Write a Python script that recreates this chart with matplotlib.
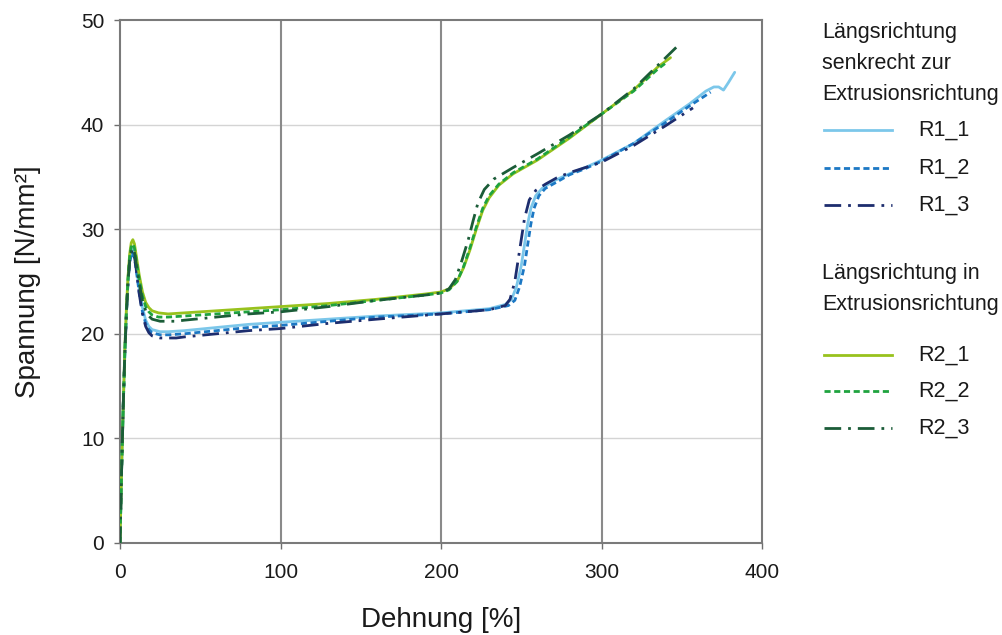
import matplotlib
matplotlib.use("Agg")
import matplotlib.pyplot as plt
from matplotlib.lines import Line2D

plt.rcParams['font.family'] = ['Liberation Sans', 'DejaVu Sans']

# Stress-strain curves: strain [%] and stress [N/mm²]
r1_1_x = [0, 1, 2, 3, 4, 5, 6, 7.5, 9, 10, 12, 14, 16, 18, 20, 25, 30, 40, 60, 80, 100,
          130, 160, 200, 230, 240, 244, 247, 250, 252, 254, 256, 259, 263, 270, 280,
          290, 300, 320, 340, 355, 365, 370, 373, 376, 379, 383]
r1_1_y = [0, 7, 13, 18, 22, 25, 27, 28.1, 27.6, 26.6, 24.3, 22.5, 21.3, 20.7, 20.4, 20.2,
          20.2, 20.3, 20.6, 20.9, 21.1, 21.4, 21.7, 22.0, 22.4, 22.8, 23.3, 24.5, 26.5,
          28.5, 30.5, 32.0, 33.2, 33.9, 34.6, 35.3, 35.9, 36.6, 38.2, 40.4, 42.0, 43.2,
          43.6, 43.6, 43.3, 44.0, 45.0]

r1_2_x = [0, 1, 2, 3, 4, 5, 6, 7.5, 9, 10, 12, 14, 16, 18, 20, 25, 30, 40, 60, 80, 100,
          130, 160, 200, 230, 242, 246, 249, 252, 254, 256, 258, 261, 265, 272, 280,
          290, 300, 320, 340, 355, 368]
r1_2_y = [0, 7, 13, 18, 22, 25, 26.8, 27.8, 27.3, 26.2, 23.9, 22.1, 21.0, 20.4, 20.1, 19.9,
          19.9, 20.0, 20.3, 20.6, 20.8, 21.2, 21.6, 21.9, 22.3, 22.7, 23.2, 24.5, 26.5,
          28.5, 30.5, 32.0, 33.2, 33.9, 34.5, 35.2, 35.8, 36.5, 38.2, 40.2, 41.8, 43.1]

r1_3_x = [0, 1, 2, 3, 4, 5, 6, 7.5, 9, 10, 12, 14, 16, 18, 20, 25, 30, 35, 40, 60, 80, 100,
          130, 160, 200, 230, 240, 243, 246, 248, 250, 252, 255, 259, 265, 272, 280,
          290, 300, 320, 340, 357]
r1_3_y = [0, 7, 13, 18, 22, 25, 27, 28.0, 27.4, 26.3, 23.8, 21.9, 20.7, 20.1, 19.8, 19.6,
          19.6, 19.6, 19.7, 20.0, 20.3, 20.5, 21.0, 21.4, 21.9, 22.3, 22.7, 23.3, 25.0,
          27.0, 29.0, 31.0, 32.8, 33.7, 34.3, 34.9, 35.4, 35.9, 36.4, 38.0, 39.9, 41.6]

r2_1_x = [0, 1, 2, 3, 4, 5, 6, 7, 8, 9, 10, 12, 14, 16, 18, 20, 24, 30, 40, 60, 80, 100,
          130, 160, 190, 200, 205, 210, 214, 218, 222, 226, 230, 236, 245, 260, 280,
          300, 320, 335, 343]
r2_1_y = [0, 7, 13, 18.5, 22.5, 25.5, 27.6, 28.7, 29.0, 28.6, 27.6, 25.6, 24.0, 23.0,
          22.5, 22.2, 22.0, 21.9, 22.0, 22.2, 22.4, 22.6, 22.9, 23.3, 23.8, 24.0, 24.3,
          25.0, 26.3, 28.0, 30.0, 31.8, 33.0, 34.2, 35.3, 36.6, 38.7, 41.0, 43.3, 45.5, 46.4]

r2_2_x = [0, 1, 2, 3, 4, 5, 6, 7, 8, 9, 10, 12, 14, 16, 18, 20, 24, 30, 40, 60, 80, 100,
          130, 160, 190, 200, 205, 210, 214, 218, 222, 226, 230, 236, 245, 260, 280,
          300, 320, 335, 341]
r2_2_y = [0, 7, 13, 18.3, 22.3, 25.3, 27.3, 28.3, 28.6, 28.2, 27.2, 25.2, 23.6, 22.6,
          22.1, 21.8, 21.6, 21.6, 21.7, 21.9, 22.1, 22.3, 22.7, 23.2, 23.7, 23.9, 24.2,
          25.0, 26.4, 28.2, 30.2, 32.0, 33.2, 34.3, 35.4, 36.7, 38.8, 41.0, 43.2, 45.3, 46.0]

r2_3_x = [0, 1, 2, 3, 4, 5, 6, 7, 8, 9, 10, 12, 14, 16, 18, 20, 25, 30, 35, 40, 60, 80,
          100, 130, 160, 190, 200, 205, 209, 213, 217, 220, 223, 227, 233, 245, 260,
          280, 300, 320, 336, 348]
r2_3_y = [0, 7, 13, 18.2, 22.0, 25.0, 27.0, 28.0, 28.2, 27.8, 26.8, 24.8, 23.2, 22.2,
          21.7, 21.4, 21.2, 21.2, 21.2, 21.3, 21.6, 21.9, 22.1, 22.6, 23.2, 23.7, 23.9,
          24.3, 25.2, 27.0, 29.0, 30.8, 32.5, 33.8, 34.8, 35.9, 37.2, 39.0, 41.0, 43.4,
          45.8, 47.6]

x_ticks = [0, 100, 200, 300, 400]
y_ticks = [0, 10, 20, 30, 40, 50]

group1_title = "Längsrichtung\nsenkrecht zur\nExtrusionsrichtung"
group2_title = "Längsrichtung in\nExtrusionsrichtung"

series = [
    ("R1_1", r1_1_x, r1_1_y, "#7cc7ea", "-"),
    ("R1_2", r1_2_x, r1_2_y, "#1c78c4", (0, (2.2, 1.3))),
    ("R1_3", r1_3_x, r1_3_y, "#1d2d6e", (0, (6, 2.5, 1, 2.5))),
    ("R2_1", r2_1_x, r2_1_y, "#98c21d", "-"),
    ("R2_2", r2_2_x, r2_2_y, "#1fa33f", (0, (2.2, 1.3))),
    ("R2_3", r2_3_x, r2_3_y, "#1b5c38", (0, (6, 2.5, 1, 2.5))),
]

W, H = 1002, 635
fig = plt.figure(figsize=(W / 100, H / 100), dpi=100)
ax = fig.add_axes([120 / W, 1 - 543 / H, (762 - 120) / W, (543 - 20) / H])

for name, xs, ys, col, ls in series:
    ax.plot(xs, ys, color=col, linestyle=ls, linewidth=2.0, solid_capstyle='round',
            dash_capstyle='butt', zorder=3)

ax.set_xlim(0, 400)
ax.set_ylim(0, 50)
ax.set_xticks(x_ticks)
ax.set_yticks(y_ticks)
ax.set_xticklabels([str(v) for v in x_ticks])
ax.set_yticklabels([str(v) for v in y_ticks])
ax.tick_params(axis='both', direction='out', length=4.3, width=1.0, color='#6e6e6e',
               labelsize=15, labelcolor='#1a1a1a')
ax.tick_params(axis='x', pad=10)
ax.tick_params(axis='y', pad=7)

# light horizontal grid, darker vertical grid
for v in y_ticks[1:-1]:
    ax.axhline(v, color='#d4d4d4', linewidth=1.0, zorder=1)
for v in x_ticks[1:-1]:
    ax.axvline(v, color='#8a8a8a', linewidth=1.5, zorder=1)
for sp in ax.spines.values():
    sp.set_color('#7a7a7a')
    sp.set_linewidth(1.5)

ax.set_xlabel("Dehnung [%]", fontsize=20, color='#1a1a1a', labelpad=18)
ax.set_ylabel("Spannung [N/mm²]", fontsize=20, color='#1a1a1a', labelpad=29)

# Legend drawn in figure pixel coordinates
def fy(py):
    return 1 - py / H

def fx(px):
    return px / W

fig.text(fx(822), fy(22), group1_title, fontsize=15.5, color='#1a1a1a',
         va='top', ha='left', linespacing=1.62)
fig.text(fx(822), fy(263), group2_title, fontsize=15.5, color='#1a1a1a',
         va='top', ha='left', linespacing=1.62)

legend_rows = [130, 168, 205, 355, 391, 428]
for (name, xs, ys, col, ls), py in zip(series, legend_rows):
    fig.add_artist(Line2D([fx(824), fx(892)], [fy(py), fy(py)], color=col,
                          linestyle=ls, linewidth=2.0, transform=fig.transFigure))
    fig.text(fx(918), fy(py), name, fontsize=15.5, color='#1a1a1a',
             va='center', ha='left')

fig.savefig("out.png", dpi=100, facecolor='white')
